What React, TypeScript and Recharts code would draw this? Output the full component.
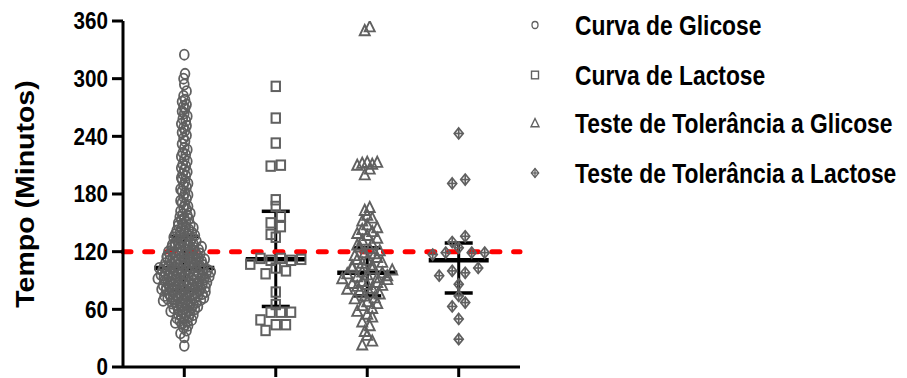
import React from "react";
import { ReferenceLine, Scatter, ScatterChart, XAxis, YAxis } from "recharts";

// ---- data ----
const groups = [
  "Curva de Glicose",
  "Curva de Lactose",
  "Teste de Tolerância a Glicose",
  "Teste de Tolerância a Lactose",
];

const glucoseCurve = [
  22, 31, 35, 38,
  41, 43, 44, 45, 46, 47, 48, 49,
  50, 51, 52, 53, 54, 55, 55, 56, 57, 58, 58, 59,
  60, 60, 61, 62, 62, 63, 64, 64, 65, 65, 66, 66, 67, 67, 68, 68, 69, 69,
  70, 70, 71, 71, 72, 72, 72, 73, 73, 74, 74, 74, 75, 75, 76, 76, 76, 77, 77, 78, 78, 79, 79, 79,
  80, 80, 80, 81, 81, 81, 82, 82, 82, 83, 83, 83, 84, 84, 84, 85, 85, 85, 86, 86, 86, 87, 87, 88, 88, 88, 89, 89,
  90, 90, 90, 91, 91, 91, 92, 92, 92, 93, 93, 93, 94, 94, 94, 95, 95, 95, 96, 96, 96, 97, 97, 97, 98, 98, 98, 99, 99, 99,
  100, 100, 100, 101, 101, 101, 102, 102, 102, 103, 103, 103, 104, 104, 104, 105, 105, 105, 106, 106, 106, 107, 107, 108, 108, 108, 109, 109,
  110, 110, 111, 111, 112, 112, 112, 113, 113, 114, 114, 114, 115, 115, 116, 116, 116, 117, 117, 118, 118, 119, 119, 119,
  120, 120, 121, 122, 122, 123, 124, 124, 125, 125, 126, 126, 127, 127, 128, 128, 129, 129,
  130, 131, 131, 132, 133, 134, 134, 135, 136, 136, 137, 138, 138, 139,
  140, 141, 142, 143, 144, 145, 146, 147, 148, 149,
  150, 151, 153, 154, 155, 156, 158, 159,
  160, 162, 164, 166, 167, 169,
  171, 173, 175, 177, 179,
  181, 183, 185, 187, 189,
  191, 193, 195, 197, 199,
  201, 203, 205, 207, 209,
  211, 214, 216, 219,
  221, 223, 226, 228,
  232, 235, 238,
  241, 244, 246, 249,
  251, 253, 256, 258,
  261, 264, 266, 269,
  271, 273, 276, 278,
  282, 287, 294, 300, 305, 325,
];

const lactoseCurve = [
  292, 259, 233, 209, 210, 174, 167, 157, 150, 146, 138, 135,
  112, 113, 111, 113, 107, 111, 103, 97, 100, 78,
  65, 57, 57, 57, 49, 38, 44, 44,
];

const glucoseTolerance = [
  354, 350, 213, 213, 212, 211, 210, 206, 200,
  166, 163, 158, 155, 152, 148, 145, 143, 141, 139, 137, 134, 132,
  128, 127, 125, 123, 121, 119, 118, 116, 114, 112, 111,
  109, 108, 106, 105, 103, 102, 101, 99, 98, 97, 96, 95, 94, 93, 92, 91,
  89, 88, 87, 86, 85, 84, 82, 81, 79, 77, 76, 74, 72, 71,
  68, 66, 64, 61, 58, 55, 52, 47, 43, 37, 33, 27, 23,
];

const lactoseTolerance = [
  243, 191, 195, 136, 124, 130, 119, 117, 119, 119,
  103, 98, 100, 95, 86, 74, 67, 63, 50, 29,
];

const medians = [103, 112, 98, 111];
const q1 = [80, 63, 74, 77];
const q3 = [136, 162, 124, 129];
const cutoff = 120;
const yTicks = [0, 60, 120, 180, 240, 300, 360];
const xTicks = [1, 2, 3, 4];

// ---- layout ----
const W = 907;
const H = 378;
const LEFT = 123;
const RIGHT = 520;
const X_DOMAIN: [number, number] = [0.33, 4.67];
const PX = (RIGHT - LEFT) / (X_DOMAIN[1] - X_DOMAIN[0]);
const GREY = "#606060";
const FONT = "'Liberation Sans', Arial, Helvetica, sans-serif";

// graphpad-like column scatter: bin by value, spread each bin sideways
function swarm(values: number[], group: number, prefPx: number, halfMaxPx: number, binH = 11.5) {
  const bins = new Map<number, number[]>();
  [...values].sort((a, b) => a - b).forEach((v) => {
    const k = Math.floor(v / binH);
    if (!bins.has(k)) bins.set(k, []);
    bins.get(k)!.push(v);
  });
  const maxN = Math.max(...[...bins.values()].map((b) => b.length));
  const step = maxN > 1 ? Math.min(prefPx, (2 * halfMaxPx) / (maxN - 1)) : prefPx;
  const out: { x: number; y: number }[] = [];
  bins.forEach((b) => {
    const n = b.length;
    const order = b
      .map((_, i) => ({ i, k: (i * 0.618034) % 1 }))
      .sort((a, c) => a.k - c.k)
      .map((o) => o.i);
    b.forEach((v, i) => {
      const slot = order.indexOf(i);
      out.push({ x: group + ((slot - (n - 1) / 2) * step) / PX, y: v });
    });
  });
  return out;
}

const series = [
  swarm(glucoseCurve, 1, 10, 26.5),
  swarm(lactoseCurve, 2, 10.2, 26),
  swarm(glucoseTolerance, 3, 11, 25),
  swarm(lactoseTolerance, 4, 13, 27),
];

const CircleMark = ({ cx, cy }: any) => (
  <ellipse cx={cx} cy={cy} rx={4.4} ry={5.1} fill="none" stroke={GREY} strokeWidth={1.8} />
);
const SquareMark = ({ cx, cy }: any) => (
  <rect x={cx - 4.2} y={cy - 4.7} width={8.4} height={9.4} fill="none" stroke={GREY} strokeWidth={2} />
);
const TriangleMark = ({ cx, cy }: any) => (
  <polygon
    points={`${cx},${cy - 5.6} ${cx + 5},${cy + 4.6} ${cx - 5},${cy + 4.6}`}
    fill="none"
    stroke={GREY}
    strokeWidth={1.9}
    strokeLinejoin="miter"
  />
);
const DiamondMark = ({ cx, cy }: any) => (
  <g stroke={GREY} strokeWidth={1.7} fill="none">
    <polygon points={`${cx},${cy - 5.5} ${cx + 4.5},${cy} ${cx},${cy + 5.5} ${cx - 4.5},${cy}`} />
    <line x1={cx} y1={cy - 5.5} x2={cx} y2={cy + 5.5} />
    <line x1={cx - 4.5} y1={cy} x2={cx + 4.5} y2={cy} />
  </g>
);
const marks = [CircleMark, SquareMark, TriangleMark, DiamondMark];

const YTick = ({ x, y, payload }: any) => (
  <text
    transform={`translate(${x - 2}, ${y + 8.2}) scale(0.86, 1)`}
    textAnchor="end"
    fontSize={24}
    fontWeight="bold"
    fontFamily={FONT}
    fill="#000"
  >
    {payload.value}
  </text>
);

const YLabel = (props: any) => {
  const vb = props.viewBox || { y: 21, height: 346 };
  const cy = vb.y + vb.height / 2;
  return (
    <text
      transform={`translate(34, ${cy}) rotate(-90) scale(1, 0.9)`}
      textAnchor="middle"
      fontSize={28.5}
      fontWeight="bold"
      fontFamily={FONT}
      fill="#000"
    >
      Tempo (Minutos)
    </text>
  );
};

function LegendBox() {
  const rows = [35, 85, 133, 183];
  const sx = 535;
  return (
    <svg width={W} height={H} style={{ position: "absolute", left: 0, top: 0, pointerEvents: "none" }}>
      {groups.map((g, i) => {
        const cy = rows[i] - 10;
        return (
          <g key={g}>
            {i === 0 && <ellipse cx={sx} cy={cy} rx={3} ry={3.5} fill="none" stroke={GREY} strokeWidth={1.3} />}
            {i === 1 && <rect x={sx - 3.5} y={cy - 3.8} width={7} height={7.6} fill="none" stroke={GREY} strokeWidth={1.4} />}
            {i === 2 && (
              <polygon
                points={`${sx},${cy - 4.5} ${sx + 4},${cy + 3.8} ${sx - 4},${cy + 3.8}`}
                fill="none"
                stroke={GREY}
                strokeWidth={1.4}
              />
            )}
            {i === 3 && (
              <g stroke={GREY} strokeWidth={1.3} fill="none">
                <polygon points={`${sx},${cy - 4.5} ${sx + 3.7},${cy} ${sx},${cy + 4.5} ${sx - 3.7},${cy}`} />
                <line x1={sx} y1={cy - 4.5} x2={sx} y2={cy + 4.5} />
                <line x1={sx - 3.7} y1={cy} x2={sx + 3.7} y2={cy} />
              </g>
            )}
            <text
              transform={`translate(575, ${rows[i]}) scale(0.83, 1)`}
              fontSize={27.5}
              fontWeight="bold"
              fontFamily={FONT}
              fill="#000"
            >
              {g}
            </text>
          </g>
        );
      })}
    </svg>
  );
}

export default function App() {
  return (
    <div style={{ position: "relative", width: W, height: H, background: "#fff" }}>
      <style>{`body{margin:0}`}</style>
      <ScatterChart width={W} height={H} margin={{ top: 21, right: W - RIGHT, bottom: 0, left: 0 }}>
        <XAxis
          type="number"
          dataKey="x"
          domain={X_DOMAIN}
          ticks={xTicks}
          interval={0}
          allowDataOverflow
          height={11}
          tickSize={10}
          tickFormatter={() => ""}
          axisLine={{ stroke: "#000", strokeWidth: 3 }}
          tickLine={{ stroke: "#000", strokeWidth: 3 }}
        />
        <YAxis
          type="number"
          dataKey="y"
          domain={[0, 360]}
          ticks={yTicks}
          interval={0}
          allowDataOverflow
          width={LEFT}
          tickSize={11}
          tick={<YTick />}
          axisLine={{ stroke: "#000", strokeWidth: 3 }}
          tickLine={{ stroke: "#000", strokeWidth: 3 }}
          label={(p: any) => <YLabel {...p} />}
        />
        {xTicks.map((g, i) => (
          <ReferenceLine
            key={`v${g}`}
            segment={[{ x: g, y: q1[i] }, { x: g, y: q3[i] }]}
            stroke="#000"
            strokeWidth={3}
          />
        ))}
        {xTicks.map((g, i) => (
          <ReferenceLine
            key={`m${g}`}
            segment={[{ x: g - 30 / PX, y: medians[i] }, { x: g + 30 / PX, y: medians[i] }]}
            stroke="#000"
            strokeWidth={4.5}
          />
        ))}
        {xTicks.map((g, i) => (
          <ReferenceLine
            key={`u${g}`}
            segment={[{ x: g - 14 / PX, y: q3[i] }, { x: g + 14 / PX, y: q3[i] }]}
            stroke="#000"
            strokeWidth={3.5}
          />
        ))}
        {xTicks.map((g, i) => (
          <ReferenceLine
            key={`l${g}`}
            segment={[{ x: g - 14 / PX, y: q1[i] }, { x: g + 14 / PX, y: q1[i] }]}
            stroke="#000"
            strokeWidth={3.5}
          />
        ))}
        {series.map((data, i) => {
          const Mark = marks[i];
          return (
            <Scatter
              key={groups[i]}
              name={groups[i]}
              data={data}
              isAnimationActive={false}
              shape={(p: any) => <Mark {...p} />}
            />
          );
        })}
        <ReferenceLine
          y={cutoff}
          stroke="#ff0000"
          strokeWidth={5}
          strokeDasharray="8 13.7"
          strokeLinecap="round"
        />
      </ScatterChart>
      <LegendBox />
    </div>
  );
}
